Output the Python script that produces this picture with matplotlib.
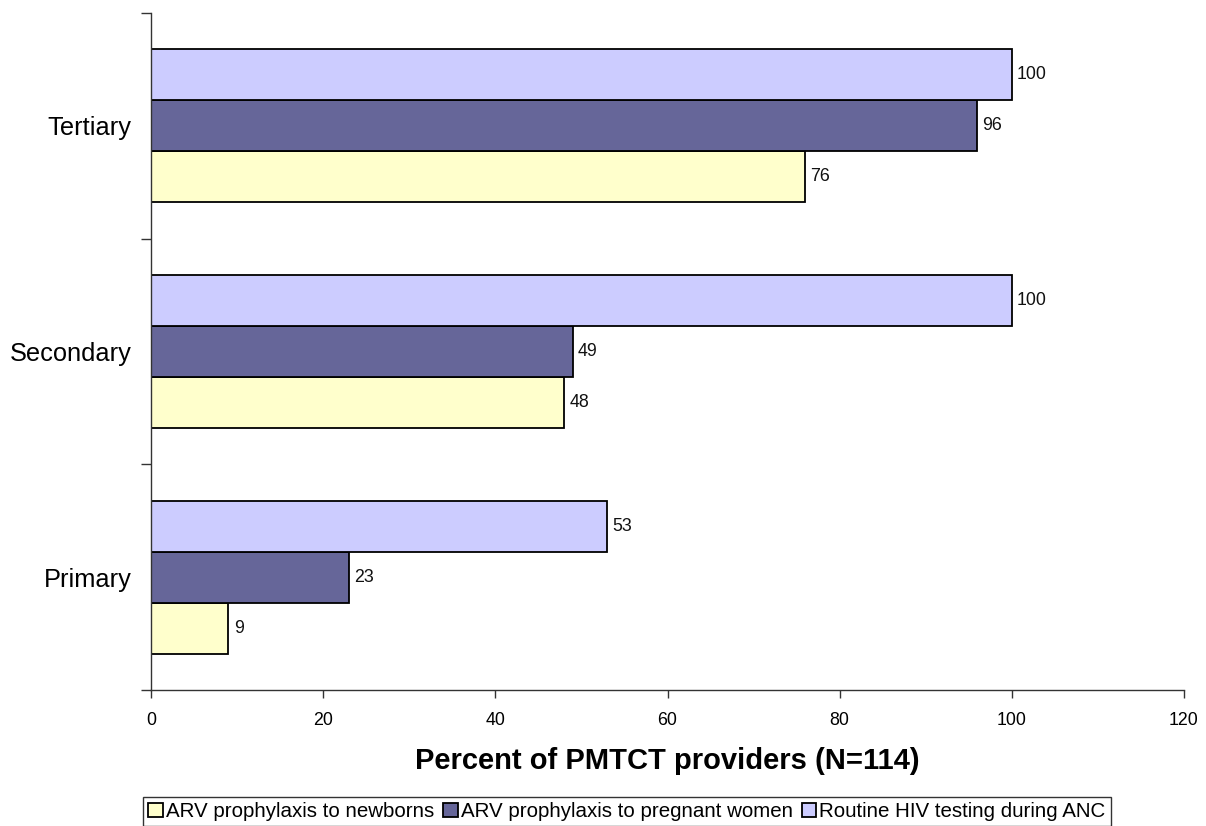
import matplotlib
matplotlib.use("Agg")
import matplotlib.pyplot as plt
import numpy as np

plt.rcParams['font.family'] = ['Liberation Sans', 'DejaVu Sans']

categories = ["Primary", "Secondary", "Tertiary"]
series_names = ["ARV prophylaxis to newborns",
                "ARV prophylaxis to pregnant women",
                "Routine HIV testing during ANC"]
newborns = [9, 48, 76]
pregnant = [23, 49, 96]
routine = [53, 100, 100]
xticks = [0, 20, 40, 60, 80, 100, 120]

colors = ["#FFFFCC", "#666699", "#CCCCFF"]

W, H = 1206, 826
fig = plt.figure(figsize=(W / 100, H / 100), dpi=100)
ax = fig.add_axes([151 / W, 1 - 690 / H, (1184 - 151) / W, (690 - 13) / H])

y = np.arange(len(categories))
h = 0.226
offsets = [-h, 0, h]
for vals, off, col, name in zip([newborns, pregnant, routine], offsets, colors, series_names):
    bars = ax.barh(y + off, vals, height=h, color=col, edgecolor="black",
                   linewidth=1.3, label=name)
    for b, v in zip(bars, vals):
        ax.text(v + 0.6, b.get_y() + b.get_height() / 2, f"{v}",
                va="center", ha="left", fontsize=12.8, color="#111111")

ax.set_xlim(0, 120)
ax.set_ylim(-0.5, len(categories) - 0.5)
ax.set_xticks(xticks)
ax.set_xticklabels([str(t) for t in xticks], fontsize=12.8)
ax.set_yticks(y)
ax.set_yticklabels(categories, fontsize=18.3)
ax.set_yticks(np.arange(-0.5, len(categories)), minor=True)
ax.tick_params(axis="y", which="major", length=0, pad=14)
ax.tick_params(axis="y", which="minor", length=7, width=1, color="#333333", direction="out")
ax.tick_params(axis="x", length=6, width=1, color="#333333", pad=10)

for s in ["top", "right"]:
    ax.spines[s].set_visible(False)
for s in ["left", "bottom"]:
    ax.spines[s].set_color("#333333")
    ax.spines[s].set_linewidth(1)

ax.set_xlabel("Percent of PMTCT providers (N=114)", fontsize=21,
              fontweight="bold", labelpad=13)

handles, labels = ax.get_legend_handles_labels()
leg = fig.legend(handles, labels, loc="upper left",
                 bbox_to_anchor=(143 / W, 1 - 797 / H), ncol=3,
                 fontsize=14.8, frameon=True, fancybox=False,
                 edgecolor="black", handlelength=0.7, handleheight=0.7,
                 handletextpad=0.15, columnspacing=0.45, borderpad=0.25,
                 borderaxespad=0)
leg.get_frame().set_linewidth(1)

fig.savefig("out.png", dpi=100)
